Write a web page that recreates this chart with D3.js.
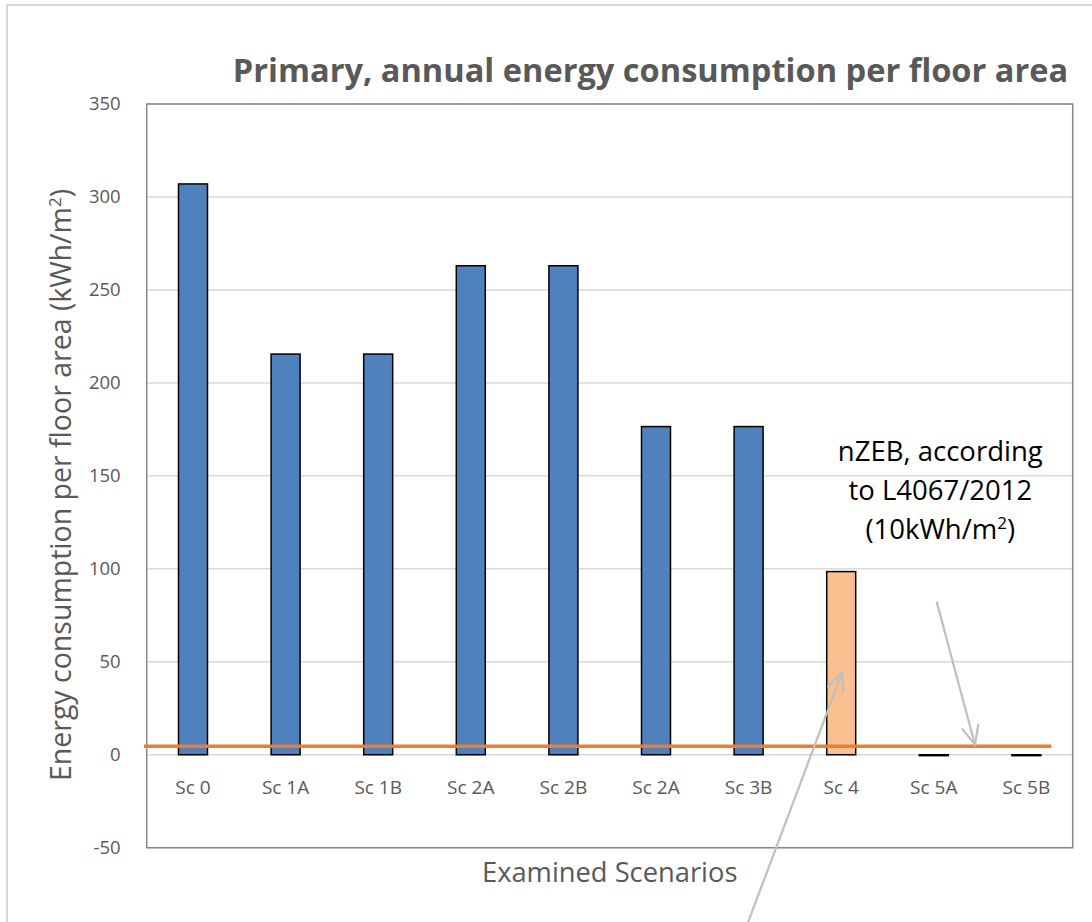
<!DOCTYPE html>
<html>
<head>
<meta charset="utf-8">
<script src="https://cdn.jsdelivr.net/npm/d3@7"></script>
<style>
  body { margin: 0; background: #fff; }
  text { font-family: "Open Sans", Lato, sans-serif; }
</style>
</head>
<body>
<div id="chart"></div>
<script>
// data
const scenarios = ["Sc 0", "Sc 1A", "Sc 1B", "Sc 2A", "Sc 2B", "Sc 2A", "Sc 3B", "Sc 4", "Sc 5A", "Sc 5B"]
const consumption = [307, 215.5, 215.5, 263, 263, 176.5, 176.5, 98.5, -0.5, -0.5]
const highlighted = [false, false, false, false, false, false, false, true, false, false]
const yTicks = [-50, 0, 50, 100, 150, 200, 250, 300, 350]
const nzebLevel = 4.5
// annotation arrows, [category position, value] pairs
const arrows = [
  { from: [6.48, -92], to: [7.51, 44.3] },
  { from: [8.53, 82.5], to: [8.945, 5.4] },
]
const noteLines = ["nZEB, according", "to L4067/2012", "(10kWh/m"]

const width = 1092, height = 922
const margin = { top: 104, right: 19.3, bottom: 74.3, left: 146.7 }
const innerW = width - margin.left - margin.right
const innerH = height - margin.top - margin.bottom

const svg = d3.select("#chart").append("svg")
  .attr("width", width)
  .attr("height", height)

// outer chart frame
svg.append("rect")
  .attr("x", 7).attr("y", 5)
  .attr("width", 1200).attr("height", 1200)
  .attr("fill", "none")
  .attr("stroke", "#d9d9d9")
  .attr("stroke-width", 2)

const g = svg.append("g")
  .attr("transform", `translate(${margin.left},${margin.top})`)

const x = d3.scaleBand()
  .domain(d3.range(scenarios.length))
  .range([0, innerW])
  .paddingInner(0.687)
  .paddingOuter(0.3435)

const xPos = d3.scaleLinear().domain([0, scenarios.length]).range([0, innerW])

const y = d3.scaleLinear().domain([-50, 350]).range([innerH, 0])

// gridlines
g.selectAll(".grid")
  .data(yTicks)
  .join("line")
    .attr("class", "grid")
    .attr("x1", 0).attr("x2", innerW)
    .attr("y1", d => y(d)).attr("y2", d => y(d))
    .attr("stroke", "#d9d9d9")
    .attr("stroke-width", 1.5)

// bars
g.selectAll(".bar")
  .data(consumption)
  .join("rect")
    .attr("class", "bar")
    .attr("x", (d, i) => x(i))
    .attr("width", x.bandwidth())
    .attr("y", d => y(Math.max(0, d)))
    .attr("height", d => Math.abs(y(d) - y(0)))
    .attr("fill", (d, i) => highlighted[i] ? "#fac090" : "#4f81bd")
    .attr("stroke", "#000")
    .attr("stroke-width", 1.5)

// plot area border
g.append("rect")
  .attr("width", innerW).attr("height", innerH)
  .attr("fill", "none")
  .attr("stroke", "#878787")
  .attr("stroke-width", 1.5)

// y axis labels
g.selectAll(".ytick")
  .data(yTicks)
  .join("text")
    .attr("class", "ytick")
    .attr("x", -26)
    .attr("y", d => y(d))
    .attr("dy", "0.35em")
    .attr("text-anchor", "end")
    .attr("fill", "#595959")
    .style("font-size", "18.5px")
    .text(d => d)

// x category labels
g.selectAll(".xtick")
  .data(scenarios)
  .join("text")
    .attr("class", "xtick")
    .attr("x", (d, i) => x(i) + x.bandwidth() / 2)
    .attr("y", y(0) + 39)
    .attr("text-anchor", "middle")
    .attr("fill", "#595959")
    .style("font-size", "19px")
    .text(d => d)

// nZEB level line
g.append("line")
  .attr("x1", xPos(-0.03)).attr("x2", xPos(9.77))
  .attr("y1", y(nzebLevel)).attr("y2", y(nzebLevel))
  .attr("stroke", "#ed7d31")
  .attr("stroke-width", 3.5)

// arrows
g.selectAll(".arrow")
  .data(arrows)
  .join("g")
    .attr("class", "arrow")
    .each(function(a) {
      const x1 = xPos(a.from[0]), y1 = y(a.from[1])
      const x2 = xPos(a.to[0]), y2 = y(a.to[1])
      const ang = Math.atan2(y2 - y1, x2 - x1)
      const len = 21, spread = 0.42
      const sel = d3.select(this)
      sel.append("line")
        .attr("x1", x1).attr("y1", y1).attr("x2", x2).attr("y2", y2)
      sel.append("path")
        .attr("d", `M${x2 - len * Math.cos(ang - spread)},${y2 - len * Math.sin(ang - spread)}
                    L${x2},${y2}
                    L${x2 - len * Math.cos(ang + spread)},${y2 - len * Math.sin(ang + spread)}`)
        .attr("fill", "none")
      sel.selectAll("line, path")
        .attr("stroke", "#bfbfbf")
        .attr("stroke-width", 2.2)
    })

// annotation
const note = g.append("text")
  .attr("text-anchor", "middle")
  .attr("fill", "#000")
  .style("font-size", "27.5px")
note.selectAll("tspan")
  .data(noteLines)
  .join("tspan")
    .attr("x", xPos(8.57))
    .attr("y", (d, i) => y(158.1) + i * 39)
    .text(d => d)
note.append("tspan").attr("dy", -10).style("font-size", "17px").text("2")
note.append("tspan").attr("dy", 10).text(")")

// title
svg.append("text")
  .attr("x", (233 + 1068) / 2)
  .attr("y", 82)
  .attr("text-anchor", "middle")
  .attr("fill", "#595959")
  .style("font-size", "32.6px")
  .style("font-weight", "bold")
  .text("Primary, annual energy consumption per floor area")

// axis titles
svg.append("text")
  .attr("x", margin.left + innerW / 2)
  .attr("y", 882)
  .attr("text-anchor", "middle")
  .attr("fill", "#595959")
  .style("font-size", "27.3px")
  .text("Examined Scenarios")

const yTitle = svg.append("text")
  .attr("transform", "translate(71,485) rotate(-90)")
  .attr("text-anchor", "middle")
  .attr("fill", "#595959")
  .style("font-size", "28.5px")
yTitle.append("tspan").text("Energy consumption per floor area (kWh/m")
yTitle.append("tspan").attr("dy", -10).style("font-size", "17px").text("2")
yTitle.append("tspan").attr("dy", 10).text(")")
</script>
</body>
</html>
